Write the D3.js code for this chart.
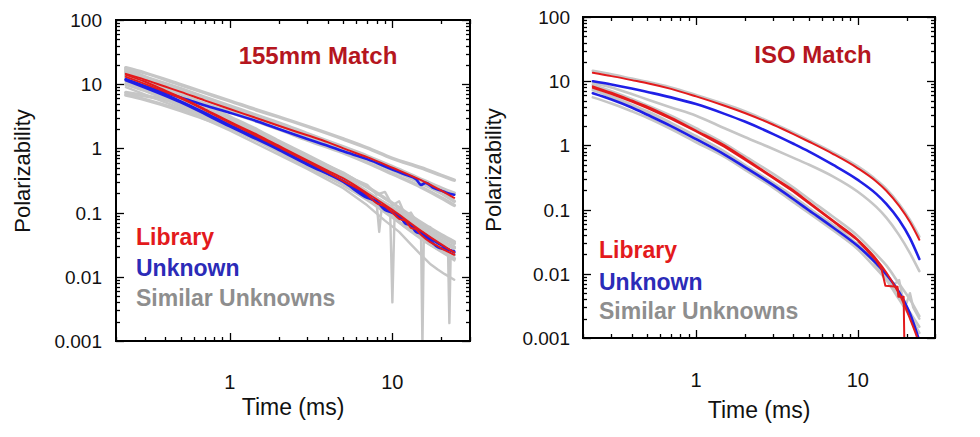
<!DOCTYPE html>
<html><head><meta charset="utf-8">
<script src="https://cdn.jsdelivr.net/npm/d3@7"></script>
<style>body{margin:0;background:#fff} svg{display:block} text{font-family:"Liberation Sans",Arial,sans-serif}</style>
</head><body><svg id="c" width="980" height="437"></svg>
<script>
// ---------- DATA ----------
const xTickLabels = ["1", "10"];
const yTickLabels = ["100", "10", "1", "0.1", "0.01", "0.001"];
const panelTitles = ["155mm Match", "ISO Match"];
const legendLabels = ["Library", "Unknown", "Similar Unknowns"];

// Left panel (155mm Match)
const tL = [0.23, 0.3, 0.4, 0.5, 0.7, 1, 1.5, 2, 3, 4, 5, 7, 10, 15, 20, 24];
const leftLibUpper = [14.5, 11.8, 9.2, 7.6, 5.6, 4.1, 2.9, 2.25, 1.6, 1.25, 1.0, 0.73, 0.5, 0.32, 0.22, 0.17];
const leftLibLowerA = [14, 11, 8.0, 6.2, 4.1, 2.6, 1.6, 1.1, 0.65, 0.45, 0.34, 0.2, 0.11, 0.052, 0.032, 0.024];
const leftUnkLowerA = [12, 9.3, 6.9, 5.4, 3.6, 2.3, 1.42, 0.98, 0.58, 0.41, 0.31, 0.18, 0.1, 0.05, 0.031, 0.024];
const tLUnkUpper = [0.23, 0.3, 0.4, 0.5, 0.7, 1, 1.5, 2, 3, 4, 5, 7, 10, 12, 14, 15, 16, 18, 20, 22, 24];
const leftUnkUpper = [11.8, 9.3, 7.4, 6.2, 4.7, 3.6, 2.6, 2.0, 1.4, 1.1, 0.9, 0.68, 0.47, 0.39, 0.33, 0.27, 0.29, 0.24, 0.22, 0.2, 0.19];
const tLWeave = [0.23, 0.5, 1, 2, 3, 5, 7, 8, 9, 10, 11, 12, 13, 14, 15, 17, 19, 21, 24];
const leftLibLowerB = [13, 6.0, 2.5, 1.05, 0.62, 0.31, 0.19, 0.14, 0.125, 0.1, 0.08, 0.075, 0.058, 0.055, 0.045, 0.035, 0.03, 0.026, 0.022];
const leftUnkLowerB = [11.5, 5.2, 2.2, 0.95, 0.56, 0.3, 0.17, 0.15, 0.11, 0.1, 0.09, 0.068, 0.063, 0.05, 0.047, 0.037, 0.029, 0.027, 0.025];

const tLG = [0.23, 0.3, 0.5, 0.7, 1, 1.5, 2, 3, 5, 7, 10, 15, 20, 24];
const leftGray1 = [18, 15, 9.8, 7.4, 5.5, 3.9, 3.1, 2.2, 1.4, 1.02, 0.7, 0.5, 0.38, 0.32];
const leftGray2 = [16, 13, 8.5, 6.3, 4.6, 3.2, 2.5, 1.7, 1.05, 0.76, 0.52, 0.33, 0.24, 0.2];
const leftGray3 = [13, 10.5, 6.8, 5.0, 3.7, 2.6, 2.0, 1.35, 0.85, 0.6, 0.4, 0.25, 0.17, 0.13];
const leftGray4 = [15, 12.2, 8.0, 5.8, 4.2, 2.95, 2.3, 1.55, 0.96, 0.68, 0.46, 0.29, 0.2, 0.15];
const leftGray5 = [7.4, 6.6, 5.0, 3.9, 2.8, 1.7, 1.2, 0.7, 0.36, 0.21, 0.115, 0.058, 0.037, 0.029];
const leftGray6 = [17, 13, 7.0, 4.8, 3.1, 1.9, 1.3, 0.78, 0.4, 0.25, 0.14, 0.07, 0.045, 0.035];
const leftGray7 = [14, 11, 6.0, 4.1, 2.7, 1.65, 1.15, 0.68, 0.35, 0.2, 0.11, 0.055, 0.035, 0.028];
const leftGray8 = [10, 8.0, 4.6, 3.2, 2.1, 1.3, 0.9, 0.52, 0.27, 0.16, 0.085, 0.04, 0.025, 0.019];
const leftGray9 = [6.8, 5.8, 3.9, 2.9, 2.1, 1.4, 1.0, 0.6, 0.32, 0.19, 0.1, 0.05, 0.03, 0.022];
const leftGray10 = [12, 9.5, 5.2, 3.6, 2.4, 1.5, 1.05, 0.62, 0.33, 0.2, 0.12, 0.065, 0.042, 0.033];
const tLN1 = [0.23, 0.5, 1, 2, 3, 5, 7, 8, 8.3, 8.6, 9, 10, 12, 15, 15.3, 15.6, 16, 20, 24];
const leftNoisy1 = [12, 5.2, 2.3, 1.0, 0.6, 0.3, 0.17, 0.14, 0.05, 0.12, 0.11, 0.09, 0.06, 0.045, 0.0008, 0.04, 0.035, 0.025, 0.02];
const tLN2 = [0.23, 0.5, 1, 2, 3, 5, 7, 9, 9.7, 10, 10.3, 12, 15, 18, 20, 22, 22.4, 22.8, 24];
const leftNoisy2 = [11, 5.0, 2.2, 0.95, 0.56, 0.29, 0.17, 0.11, 0.09, 0.004, 0.08, 0.06, 0.04, 0.03, 0.026, 0.022, 0.0019, 0.02, 0.018];
const tLN3 = [0.23, 0.5, 1, 2, 3, 5, 6, 7, 8, 9, 10, 11, 12, 13, 15, 17, 20, 24];
const leftNoisy3 = [15, 6.5, 2.8, 1.2, 0.75, 0.42, 0.32, 0.27, 0.19, 0.21, 0.13, 0.15, 0.09, 0.1, 0.055, 0.06, 0.035, 0.028];
const tLN4 = [0.23, 0.5, 1, 2, 3, 5, 7, 9, 11, 13, 15, 17, 19, 21, 24];
const leftNoisy4 = [9, 4.2, 1.9, 0.8, 0.48, 0.24, 0.13, 0.075, 0.05, 0.032, 0.022, 0.016, 0.013, 0.011, 0.009];

// Right panel (ISO Match)
const tR = [0.23, 0.3, 0.4, 0.5, 0.7, 1, 1.5, 2, 3, 4, 5, 7, 10, 13, 15, 18, 21, 24];
const rightLibUpper = [13.5, 12.0, 10.4, 9.3, 7.6, 5.8, 4.15, 3.2, 2.1, 1.5, 1.14, 0.74, 0.44, 0.274, 0.197, 0.114, 0.064, 0.034];
const rightUnkUpper = [10, 8.9, 7.7, 6.8, 5.6, 4.4, 3.1, 2.35, 1.5, 1.06, 0.8, 0.5, 0.29, 0.176, 0.123, 0.069, 0.036, 0.017];
const rightUnkLower = [6.5, 5.2, 3.9, 3.0, 2.0, 1.25, 0.72, 0.46, 0.24, 0.145, 0.097, 0.053, 0.027, 0.0145, 0.0098, 0.0052, 0.0024, 0.0009];
const tRLibA = [0.23, 0.3, 0.4, 0.5, 0.7, 1, 1.5, 2, 3, 4, 5, 7, 10, 13, 14, 14.8, 17.6, 17.8, 19.2, 19.4];
const rightLibLowerA = [7.9, 6.3, 4.8, 3.8, 2.6, 1.65, 0.95, 0.6, 0.31, 0.19, 0.125, 0.066, 0.033, 0.016, 0.012, 0.0065, 0.0063, 0.0044, 0.0044, 0.0008];
const tRLibB = [0.23, 0.3, 0.4, 0.5, 0.7, 1, 1.5, 2, 3, 4, 5, 7, 10, 13, 15, 17, 19, 21, 23, 24];
const rightLibLowerB = [8.3, 6.6, 5.0, 4.0, 2.7, 1.7, 1.0, 0.63, 0.32, 0.2, 0.13, 0.068, 0.034, 0.017, 0.0105, 0.0063, 0.0037, 0.002, 0.0011, 0.0008];
const rightGray1 = [14.5, 12.8, 11.0, 9.8, 8.0, 6.1, 4.4, 3.4, 2.2, 1.58, 1.2, 0.78, 0.47, 0.29, 0.21, 0.122, 0.069, 0.038];
const rightGray2 = [9.5, 8.0, 6.3, 5.2, 3.9, 2.9, 1.85, 1.35, 0.88, 0.64, 0.5, 0.33, 0.19, 0.11, 0.075, 0.04, 0.021, 0.011];
const rightGray3 = [8.8, 7.0, 5.3, 4.2, 2.9, 1.85, 1.07, 0.68, 0.36, 0.22, 0.145, 0.078, 0.039, 0.02, 0.0135, 0.007, 0.004, 0.0022];
const rightGray4 = [5.6, 4.5, 3.4, 2.7, 1.8, 1.12, 0.66, 0.42, 0.22, 0.13, 0.088, 0.048, 0.024, 0.012, 0.008, 0.004, 0.0022, 0.0012];
const rightGray5 = [7.2, 5.8, 4.3, 3.4, 2.25, 1.4, 0.8, 0.5, 0.26, 0.16, 0.105, 0.058, 0.028, 0.014, 0.009, 0.0045, 0.0025, 0.0015];
const tRN = [0.23, 0.5, 1, 2, 3, 5, 7, 8, 9, 10, 11, 12, 13, 14, 15, 16, 17, 18, 19, 20, 21, 22, 24];
const rightNoisy = [7.5, 3.2, 1.3, 0.48, 0.26, 0.105, 0.055, 0.05, 0.032, 0.03, 0.022, 0.02, 0.013, 0.011, 0.009, 0.0075, 0.007, 0.008, 0.004, 0.0035, 0.005, 0.003, 0.002];

// ---------- DRAW ----------
const svg = d3.select("#c");
const panels = [
  {x0: 116, x1: 470, y0: 20, y1: 341, title: panelTitles[0], titleX: 318, titleY: 64,
   legX: 136, legY: [245, 276, 306], xlabY: 389, xtitleY: 415, ylabX: 102, ytitleX: 30, ytitleY: 171,
   series: [
     ...[leftGray1, leftGray2, leftGray3, leftGray4, leftGray5, leftGray6, leftGray7, leftGray8, leftGray9, leftGray10].map(v => ({t: tLG, v, k: "g"})),
     {t: tLN1, v: leftNoisy1, k: "gn"}, {t: tLN2, v: leftNoisy2, k: "gn"},
     {t: tLN3, v: leftNoisy3, k: "gn"}, {t: tLN4, v: leftNoisy4, k: "gn"},
     {t: tLUnkUpper, v: leftUnkUpper, k: "b"}, {t: tL, v: leftUnkLowerA, k: "b"}, {t: tLWeave, v: leftUnkLowerB, k: "b"},
     {t: tL, v: leftLibUpper, k: "r"}, {t: tL, v: leftLibLowerA, k: "r"}, {t: tLWeave, v: leftLibLowerB, k: "r"}
   ]},
  {x0: 583, x1: 935, y0: 17, y1: 338, title: panelTitles[1], titleX: 813, titleY: 63,
   legX: 599, legY: [258, 290, 319], xlabY: 387, xtitleY: 418, ylabX: 570, ytitleX: 501, ytitleY: 170,
   series: [
     ...[rightGray1, rightGray2, rightGray3, rightGray4, rightGray5].map(v => ({t: tR, v, k: "gt"})),
     {t: tRN, v: rightNoisy, k: "gn"},
     {t: tR, v: rightUnkUpper, k: "b"}, {t: tR, v: rightUnkLower, k: "b"},
     {t: tR, v: rightLibUpper, k: "r"}, {t: tRLibA, v: rightLibLowerA, k: "rn"}, {t: tRLibB, v: rightLibLowerB, k: "r"}
   ]}
];

const styles = {
  g: {stroke: "#c6c6c6", w: 3.6, curve: d3.curveMonotoneX},
  gt: {stroke: "#c6c6c6", w: 2.6, curve: d3.curveMonotoneX},
  gn: {stroke: "#c6c6c6", w: 2.4, curve: d3.curveLinear},
  b: {stroke: "#1f1fe6", w: 2.6, curve: d3.curveMonotoneX},
  r: {stroke: "#e31a1c", w: 2.0, curve: d3.curveMonotoneX},
  rn: {stroke: "#e31a1c", w: 2.0, curve: d3.curveLinear}
};

const yVals = yTickLabels.map(Number);

panels.forEach((p, i) => {
  const x = d3.scaleLog().domain([0.2, 30]).range([p.x0, p.x1]);
  const y = d3.scaleLog().domain([0.001, 100]).range([p.y1, p.y0]);
  const g = svg.append("g");
  const clipId = "clip" + i;
  g.append("clipPath").attr("id", clipId).append("rect")
    .attr("x", p.x0).attr("y", p.y0).attr("width", p.x1 - p.x0).attr("height", p.y1 - p.y0);
  const lines = g.append("g").attr("clip-path", `url(#${clipId})`);
  p.series.forEach(s => {
    const st = styles[s.k];
    const line = d3.line().x(d => x(d[0])).y(d => y(d[1])).curve(st.curve);
    lines.append("path").datum(s.t.map((t, j) => [t, s.v[j]]))
      .attr("d", line).attr("fill", "none").attr("stroke", st.stroke)
      .attr("stroke-width", st.w).attr("stroke-linejoin", "round").attr("stroke-linecap", "round");
  });

  // ticks (inward, all four sides)
  const tk = g.append("g").attr("stroke", "#000").attr("stroke-width", 1.3);
  y.ticks().forEach(v => {
    const major = Math.abs(Math.log10(v) - Math.round(Math.log10(v))) < 1e-9;
    const L = major ? 8 : 4;
    const yy = Math.round(y(v)) + 0.5;
    tk.append("line").attr("x1", p.x0).attr("x2", p.x0 + L).attr("y1", yy).attr("y2", yy);
    tk.append("line").attr("x1", p.x1).attr("x2", p.x1 - L).attr("y1", yy).attr("y2", yy);
  });
  x.ticks().forEach(v => {
    const major = Math.abs(Math.log10(v) - Math.round(Math.log10(v))) < 1e-9;
    const L = major ? 8 : 4;
    const xx = Math.round(x(v)) + 0.5;
    tk.append("line").attr("x1", xx).attr("x2", xx).attr("y1", p.y1).attr("y2", p.y1 - L);
    tk.append("line").attr("x1", xx).attr("x2", xx).attr("y1", p.y0).attr("y2", p.y0 + L);
  });

  // frame
  g.append("rect").attr("x", p.x0).attr("y", p.y0).attr("width", p.x1 - p.x0).attr("height", p.y1 - p.y0)
    .attr("fill", "none").attr("stroke", "#000").attr("stroke-width", 2);

  // tick labels
  yVals.forEach((v, j) => {
    g.append("text").attr("x", p.ylabX).attr("y", y(v) + 7).attr("text-anchor", "end")
      .attr("font-size", 19).attr("fill", "#111").text(yTickLabels[j]);
  });
  xTickLabels.forEach(s => {
    g.append("text").attr("x", x(+s)).attr("y", p.xlabY).attr("text-anchor", "middle")
      .attr("font-size", 20).attr("fill", "#111").text(s);
  });
  // axis titles
  g.append("text").attr("x", (p.x0 + p.x1) / 2).attr("y", p.xtitleY).attr("text-anchor", "middle")
    .attr("font-size", 23).attr("fill", "#111").text("Time (ms)");
  g.append("text").attr("transform", `translate(${p.ytitleX},${p.ytitleY}) rotate(-90)`)
    .attr("text-anchor", "middle").attr("font-size", 22).attr("fill", "#111").text("Polarizability");

  // panel title
  g.append("text").attr("x", p.titleX).attr("y", p.titleY).attr("text-anchor", "middle")
    .attr("font-size", 24).attr("font-weight", "bold").attr("fill", "#b5161e").text(p.title);

  // legend
  const legColors = ["#e31a1c", "#2b2bb8", "#8e8e8e"];
  legendLabels.forEach((s, j) => {
    g.append("text").attr("x", p.legX).attr("y", p.legY[j]).attr("font-size", 23)
      .attr("font-weight", "bold").attr("fill", legColors[j]).text(s);
  });
});
</script></body></html>
